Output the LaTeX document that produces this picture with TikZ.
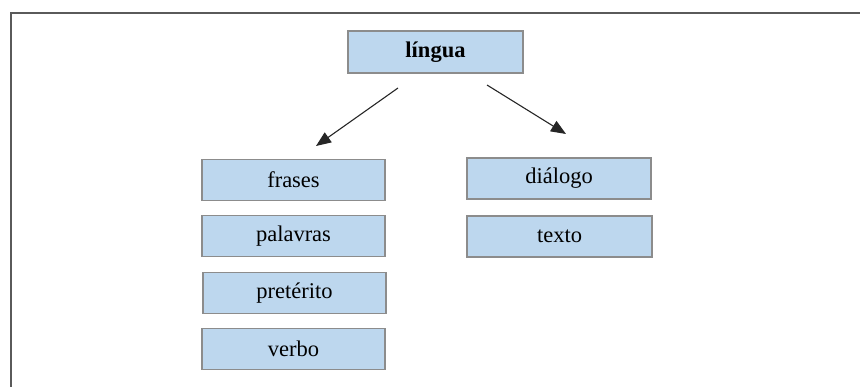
\documentclass[tikz,border=0pt]{standalone}
\usepackage{fontspec}
\setmainfont{Liberation Serif}
\usetikzlibrary{arrows.meta}
\definecolor{boxfill}{HTML}{BDD7EE}
\definecolor{boxline}{HTML}{8C8C8C}
\definecolor{frameline}{HTML}{5A5A5A}
\tikzset{
  termbox/.style={draw=boxline, line width=1.6pt, fill=boxfill, inner sep=0pt,
    minimum width=183pt, minimum height=41pt, font=\fontsize{22.5}{26}\selectfont},
  link/.style={line width=1.1pt, draw=black!85,
    -{Triangle[length=15pt,width=12pt]}}
}
\begin{document}
\begin{tikzpicture}[x=1pt,y=-1pt]
  \useasboundingbox (0,0) rectangle (860,387);
  % open frame: top and left edges only
  \draw[frameline, line width=2pt] (11,387) -- (11,13) -- (860,13);

  % root
  \node[termbox, minimum width=175pt, minimum height=42pt,
        font=\fontsize{22.5}{26}\selectfont\bfseries] (lingua) at (435.5,52) {língua};

  % left column
  \node[termbox] (frases)    at (293.5,180) {frases};
  \node[termbox] (palavras)  at (293.5,236) {palavras};
  \node[termbox] (preterito) at (294.5,293) {pretérito};
  \node[termbox] (verbo)     at (293.5,349) {verbo};

  % right column
  \node[termbox, minimum width=184pt] (dialogo) at (559,178.5) {diálogo};
  \node[termbox, minimum width=185pt] (texto)   at (559.5,236.5) {texto};

  % connectors
  \coordinate (l0) at (398,88);
  \coordinate (l1) at (316,146);
  \coordinate (r0) at (487,85);
  \coordinate (r1) at (566,134);
  \draw[link] (l0) -- (l1);
  \draw[link] (r0) -- (r1);
\end{tikzpicture}
\end{document}
